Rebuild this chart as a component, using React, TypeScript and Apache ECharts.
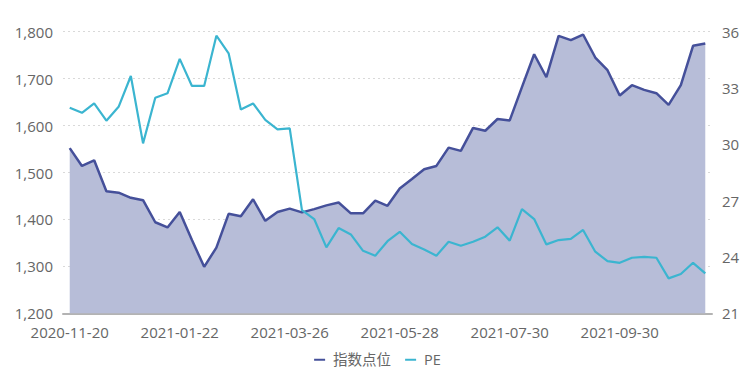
import React, { useEffect, useRef } from "react";
import * as echarts from "echarts";

const dates: string[] = [
  "2020-11-20", "2020-11-27", "2020-12-04", "2020-12-11", "2020-12-18", "2020-12-25", "2020-12-31",
  "2021-01-08", "2021-01-15", "2021-01-22", "2021-01-29", "2021-02-05", "2021-02-10", "2021-02-19",
  "2021-02-26", "2021-03-05", "2021-03-12", "2021-03-19", "2021-03-26", "2021-04-02", "2021-04-09",
  "2021-04-16", "2021-04-23", "2021-04-30", "2021-05-07", "2021-05-14", "2021-05-21", "2021-05-28",
  "2021-06-04", "2021-06-11", "2021-06-18", "2021-06-25", "2021-07-02", "2021-07-09", "2021-07-16",
  "2021-07-23", "2021-07-30", "2021-08-06", "2021-08-13", "2021-08-20", "2021-08-27", "2021-09-03",
  "2021-09-10", "2021-09-17", "2021-09-24", "2021-09-30", "2021-10-08", "2021-10-15", "2021-10-22",
  "2021-10-29", "2021-11-05", "2021-11-12", "2021-11-19",
];

const indexPoints: number[] = [
  1552, 1514, 1526, 1460, 1457, 1446, 1441, 1394, 1383, 1416,
  1356, 1299, 1340, 1412, 1407, 1443, 1397, 1416, 1423, 1415,
  1422, 1430, 1436, 1413, 1413, 1440, 1429, 1466, 1486, 1507,
  1514, 1553, 1546, 1595, 1589, 1614, 1611, 1682, 1752, 1703,
  1791, 1782, 1794, 1745, 1718, 1664, 1686, 1676, 1669, 1644,
  1686, 1770, 1775,
];

const peValues: number[] = [
  31.95, 31.68, 32.18, 31.26, 32.0, 33.64, 30.05, 32.48, 32.72, 34.55,
  33.11, 33.11, 35.79, 34.85, 31.86, 32.18, 31.3, 30.8, 30.85, 26.5,
  26.02, 24.51, 25.54, 25.2, 24.33, 24.07, 24.84, 25.34, 24.69, 24.4,
  24.07, 24.81, 24.6, 24.81, 25.08, 25.58, 24.87, 26.55, 26.02, 24.67,
  24.9, 24.96, 25.44, 24.28, 23.78, 23.69, 23.96, 24.01, 23.96, 22.86,
  23.09, 23.69, 23.13,
];

const xLabelIndices: number[] = [0, 9, 18, 27, 36, 45];
const seriesNames: string[] = ["指数点位", "PE"];

const FONT = "'Open Sans', 'Noto Sans CJK SC', sans-serif";

function addCommas(v: number): string {
  return String(v).replace(/\B(?=(\d{3})+(?!\d))/g, ",");
}

export default function App() {
  const ref = useRef<HTMLDivElement>(null);
  useEffect(() => {
    if (!ref.current) return;
    const chart = echarts.init(ref.current, undefined, { renderer: "svg" });
    chart.setOption({
      animation: false,
      backgroundColor: "#ffffff",
      grid: { left: 63, right: 43, top: 31.7, bottom: 71.7, containLabel: false },
      legend: {
        data: seriesNames,
        bottom: 13,
        left: "center",
        icon: "rect",
        itemWidth: 11,
        itemHeight: 2,
        itemGap: 14,
        textStyle: { fontSize: 14.5, color: "#666", fontFamily: FONT, padding: [0, 0, 0, 3] },
      },
      xAxis: {
        type: "value",
        min: -0.55,
        max: 52.55,
        axisLine: { show: true, lineStyle: { color: "#b3b3b3", width: 2 } },
        axisTick: { show: false },
        splitLine: { show: false },
        axisLabel: {
          customValues: xLabelIndices,
          formatter: (v: number) => dates[Math.round(v)] ?? "",
          fontSize: 15,
          lineHeight: 15,
          color: "#666",
          fontFamily: FONT,
          margin: 11,
        },
      },
      yAxis: [
        {
          type: "value",
          min: 1200,
          max: 1800,
          interval: 100,
          axisLine: { show: false },
          axisTick: { show: false },
          axisLabel: {
            fontSize: 15,
            lineHeight: 13,
            color: "#666",
            fontFamily: FONT,
            margin: 10,
            formatter: (v: number) => addCommas(v),
          },
          splitLine: { show: true, lineStyle: { color: "#d9d9d9", type: [2, 3], width: 1 } },
        },
        {
          type: "value",
          min: 21,
          max: 36,
          interval: 3,
          axisLine: { show: false },
          axisTick: { show: false },
          axisLabel: { fontSize: 15, lineHeight: 13, color: "#666", fontFamily: FONT, margin: 10 },
          splitLine: { show: false },
        },
      ],
      series: [
        {
          name: seriesNames[0],
          type: "line",
          yAxisIndex: 0,
          symbol: "none",
          data: indexPoints.map((v, i) => [i, v]),
          lineStyle: { color: "#45509a", width: 2.5 },
          itemStyle: { color: "#45509a" },
          areaStyle: { color: "#b7bdd8", opacity: 1, origin: "start" },
          z: 2,
        },
        {
          name: seriesNames[1],
          type: "line",
          yAxisIndex: 1,
          symbol: "none",
          data: peValues.map((v, i) => [i, v]),
          lineStyle: { color: "#3bb5d0", width: 2.2 },
          itemStyle: { color: "#3bb5d0" },
          z: 3,
        },
      ],
    });
    return () => chart.dispose();
  }, []);
  return (
    <div
      ref={ref}
      style={{ position: "fixed", left: 0, top: 0, width: 755, height: 385 }}
    />
  );
}
